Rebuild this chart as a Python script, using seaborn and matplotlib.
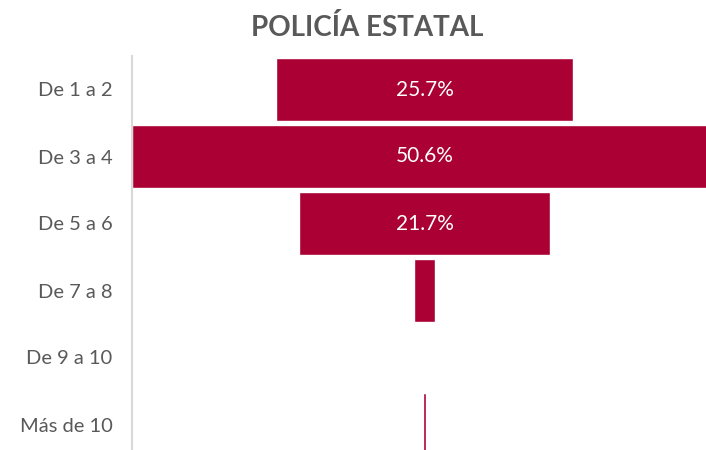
import pandas as pd
import matplotlib.pyplot as plt
import seaborn as sns

categories = ['De 1 a 2', 'De 3 a 4', 'De 5 a 6', 'De 7 a 8', 'De 9 a 10', 'Más de 10']
values = [25.7, 50.6, 21.7, 1.8, 0.0, 0.2]
labels = ['25.7%', '50.6%', '21.7%', '', '', '']

df = pd.DataFrame({'cat': categories, 'pct': values})

sns.set_style('white')
plt.rcParams['font.family'] = ['Lato', 'DejaVu Sans']

fig = plt.figure(figsize=(7.06, 4.5), dpi=100)
ax = fig.add_axes([132 / 706, -8 / 450, 585 / 706, 402 / 450])

sns.barplot(data=df, x='pct', y='cat', color='#AA0033', width=0.94,
            saturation=1, ax=ax)

# center the bars to get the funnel look
for p, v, lab in zip(ax.patches, values, labels):
    p.set_x(-v / 2)
    if lab:
        ax.text(0, p.get_y() + p.get_height() / 2, lab, ha='center', va='center',
                color='white', fontsize=15)

ax.set_xlim(-25.3, 25.3)
ax.set_xlabel('')
ax.set_ylabel('')
ax.set_xticks([])
ax.tick_params(axis='y', length=0, pad=14, labelsize=14.5, labelcolor='#595959')
for s in ['top', 'right', 'bottom']:
    ax.spines[s].set_visible(False)
ax.spines['left'].set_color('#D9D9D9')
ax.spines['left'].set_linewidth(1.5)

fig.text(367 / 706, 1 - 27 / 450, 'POLICÍA ESTATAL', ha='center', va='center',
         fontsize=20, fontweight='bold', color='#595959')

fig.savefig('out.png', dpi=100)
